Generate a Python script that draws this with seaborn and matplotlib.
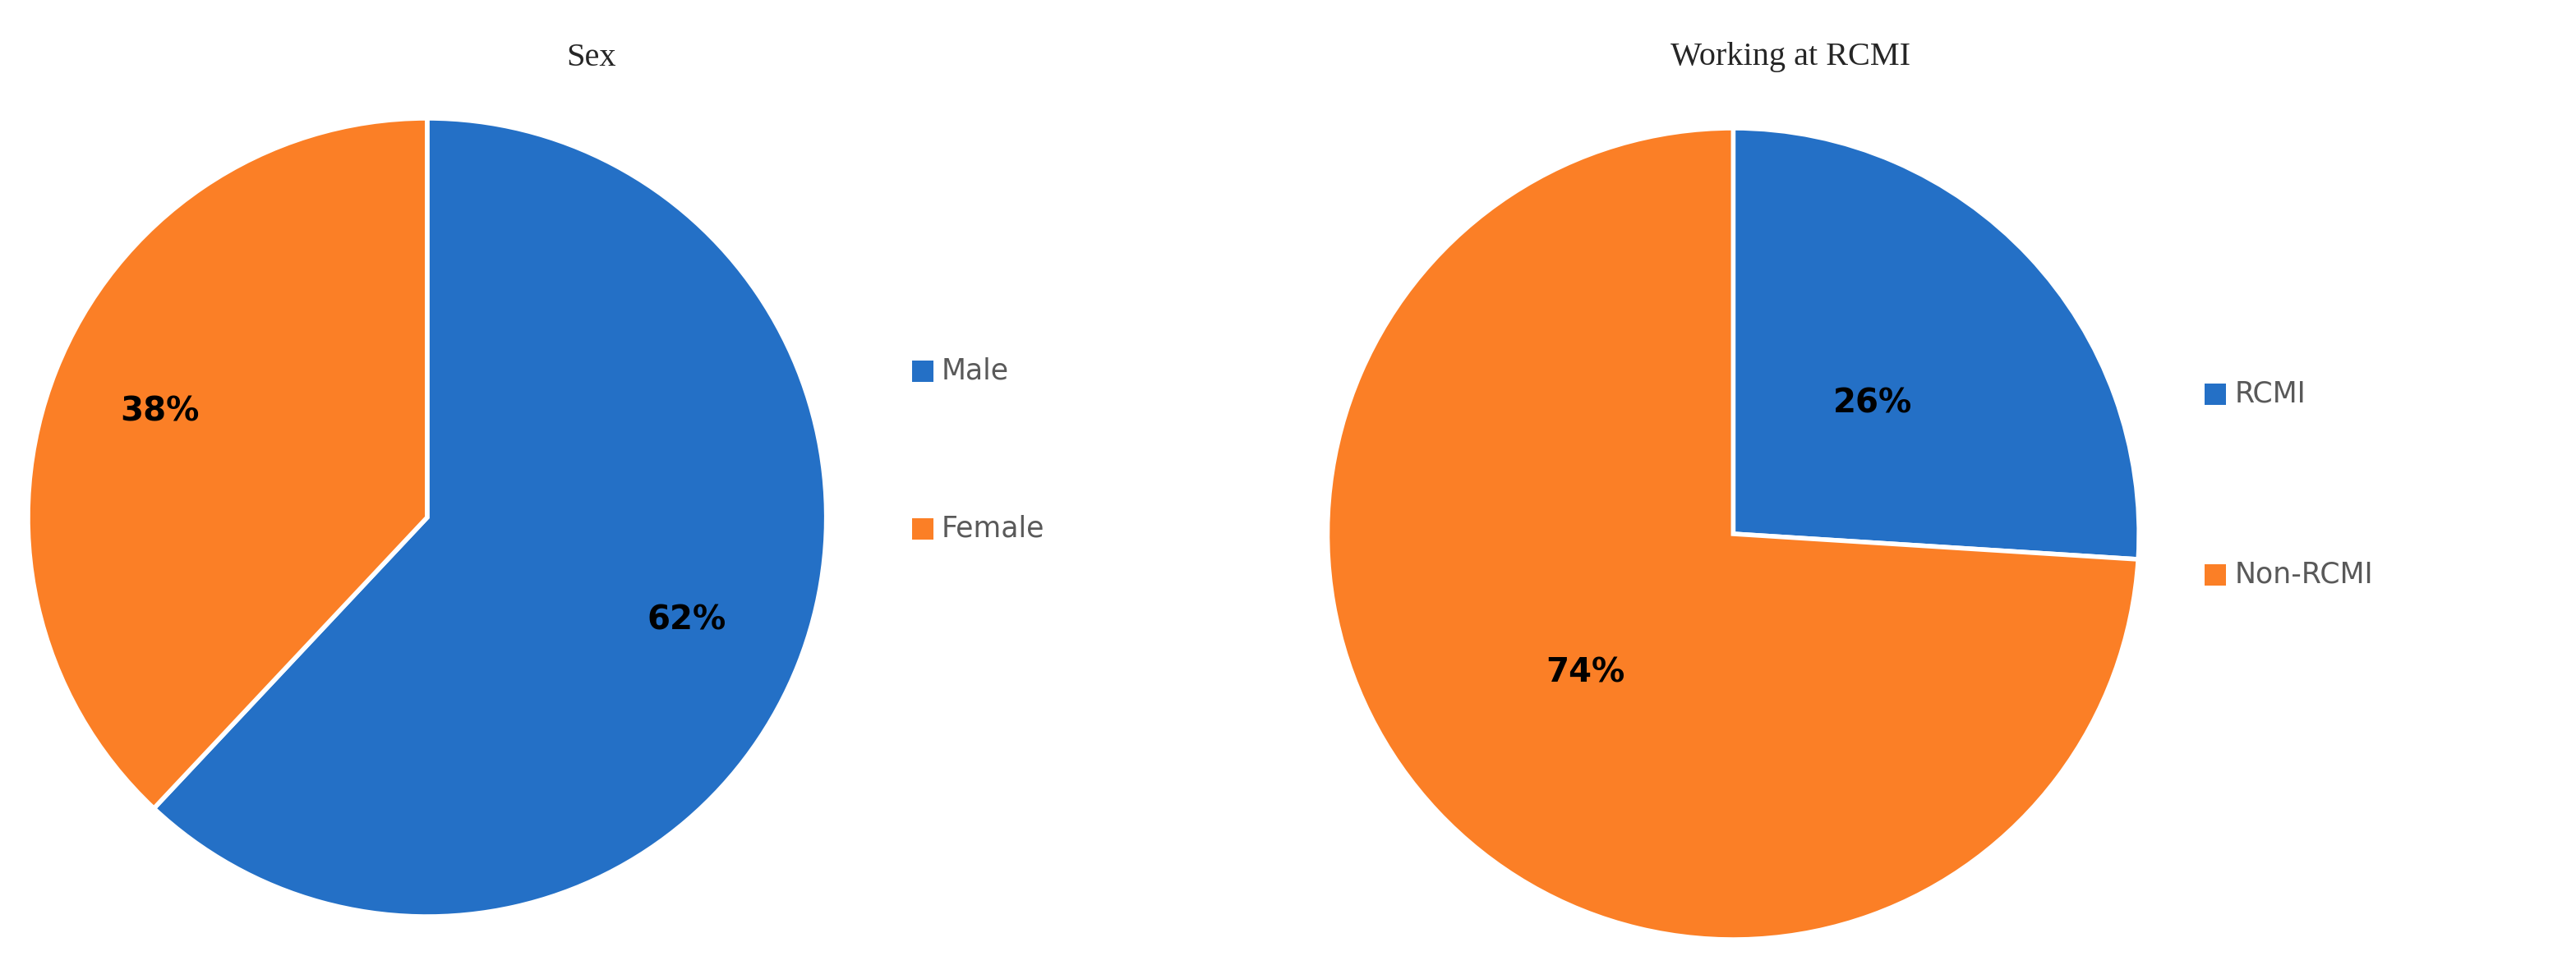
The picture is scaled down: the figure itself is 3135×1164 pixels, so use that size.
import matplotlib.pyplot as plt
import matplotlib.patches as mpatches
import seaborn as sns

sns.set_theme(style="white")
plt.rcParams['font.family'] = ['DejaVu Sans']

sex_labels = ["Male", "Female"]
sex_values = [62, 38]
rcmi_labels = ["RCMI", "Non-RCMI"]
rcmi_values = [26, 74]
colors = ["#2470C6", "#FB7F26"]

W, H = 1568.0, 582.0
fig = plt.figure(figsize=(31.35, 11.64), dpi=100)


def draw_pie(cx, cy, r, values, dists, title, title_x, legend_labels, leg_x, leg_ys):
    w = r / W
    h = r / H
    ax = fig.add_axes([cx / W - w, 1 - cy / H - h, 2 * w, 2 * h])
    wedges, _ = ax.pie(values, colors=colors, startangle=90, counterclock=False,
                       radius=1.0, wedgeprops=dict(edgecolor="white", linewidth=4))
    # percentage labels
    import numpy as np
    start = 90.0
    for v, d in zip(values, dists):
        mid = np.deg2rad(start - v * 3.6 / 2)
        ax.text(d * np.cos(mid), d * np.sin(mid), f"{v}%", ha="center", va="center",
                fontsize=29, fontweight="bold", color="black")
        start -= v * 3.6
    ax.set_xlim(-1, 1)
    ax.set_ylim(-1, 1)
    ax.set_aspect("auto")
    ax.axis("off")
    fig.text(title_x / W, 1 - 35 / H, title, ha="center", va="center",
             fontsize=29, family=["Liberation Serif", "DejaVu Serif"])
    for lab, col, ly in zip(legend_labels, colors, leg_ys):
        s = 13
        fig.patches.append(mpatches.Rectangle(((leg_x - 15) / W, 1 - (ly + s / 2) / H), s / W, s / H,
                                              transform=fig.transFigure, facecolor=col,
                                              edgecolor="none"))
        fig.text((leg_x + 3) / W, 1 - ly / H, lab, ha="left", va="center",
                 fontsize=25, color="#595959")


draw_pie(260, 315, 243, sex_values, [0.70, 0.72], "Sex", 360,
         sex_labels, 570, [226, 322])
draw_pie(1055, 325, 247, rcmi_values, [0.47, 0.50], "Working at RCMI", 1090,
         rcmi_labels, 1357, [240, 350])

fig.savefig("out.png", dpi=100, facecolor="white")
